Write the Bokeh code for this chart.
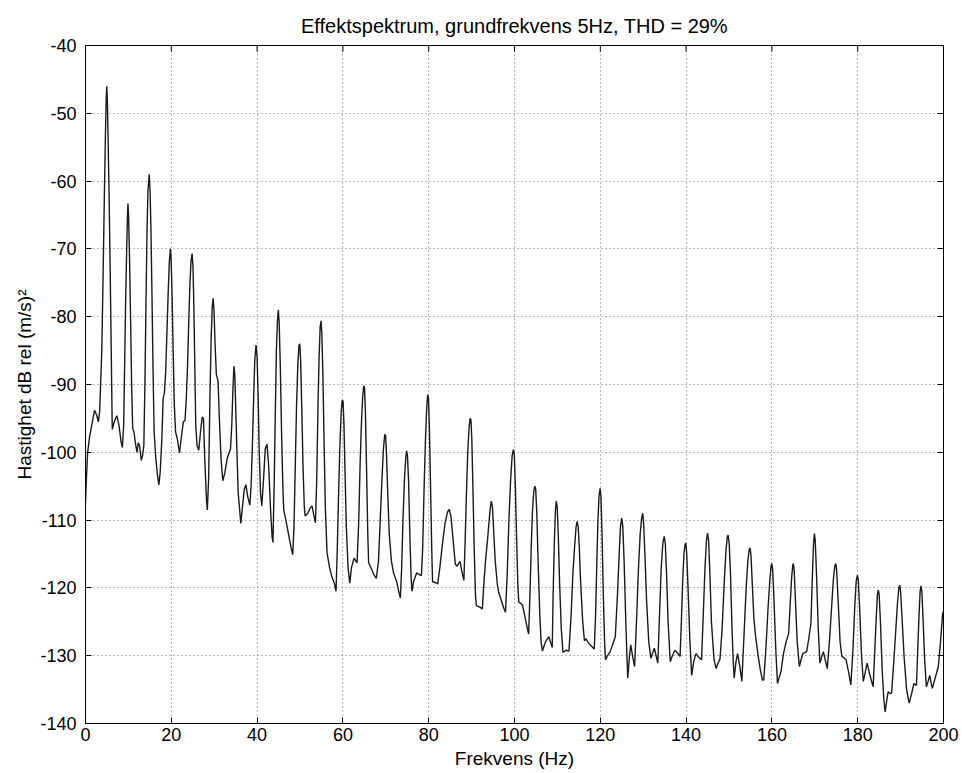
from bokeh.plotting import figure
from bokeh.models import LinearAxis, Range1d, CustomJSTickFormatter
from bokeh.embed import file_html
from bokeh.resources import INLINE

# Power spectrum trace: frequency (Hz) and level (dB rel (m/s)^2), harmonics every 5 Hz
freq_hz = [
    0.0, 0.2, 0.5, 1.0, 1.6, 2.1, 2.6, 3.0, 3.3, 3.8, 4.1, 4.4, 4.65, 4.82, 4.95, 5.1, 5.25, 5.5, 5.75, 6.0, 6.2,
    6.25, 6.7, 7.3, 7.8, 8.3, 8.6, 8.9,
    9.1, 9.35, 9.6, 9.78, 9.9, 10.05, 10.25, 10.5, 10.75, 11.0, 11.3, 11.6, 12.0, 12.3, 12.6, 13.0, 13.3, 13.6,
    13.85, 14.1, 14.35, 14.55, 14.85, 15.05, 15.25, 15.5, 15.75, 16.0, 16.4, 16.8, 17.1, 17.4, 17.8, 18.1, 18.4, 18.7,
    19.0, 19.3, 19.55, 19.8, 19.95, 20.15, 20.4, 20.7, 21.0, 21.4, 21.9, 22.3, 22.8, 23.2, 23.5,
    23.8, 24.1, 24.35, 24.6, 24.85, 25.05, 25.25, 25.5, 25.7, 26.0, 26.4, 26.8, 27.2, 27.5, 27.8, 28.2, 28.4, 28.7,
    29.0, 29.3, 29.55, 29.75, 29.95, 30.2, 30.5, 30.9, 31.2, 31.6, 32.0, 32.5, 33.0, 33.5, 33.8,
    34.1, 34.35, 34.6, 34.8, 35.0, 35.3, 35.6, 36.0, 36.2, 36.6, 37.0, 37.4, 37.8, 38.3, 38.6,
    38.9, 39.2, 39.45, 39.75, 40.0, 40.25, 40.5, 40.8, 41.1, 41.5, 41.9, 42.3, 42.7, 43.1, 43.5, 43.7,
    44.0, 44.25, 44.5, 44.75, 44.95, 45.15, 45.4, 45.7, 46.0, 46.2, 46.7, 47.3, 47.9, 48.3, 48.6,
    48.9, 49.2, 49.5, 49.75, 49.95, 50.15, 50.4, 50.7, 51.0, 51.2, 51.8, 52.4, 52.8, 53.2, 53.6,
    53.9, 54.2, 54.45, 54.7, 54.9, 55.1, 55.35, 55.6, 55.9, 56.3, 56.9, 57.4, 58.0, 58.4, 58.7,
    59.0, 59.3, 59.6, 59.85, 60.05, 60.25, 60.5, 60.8, 61.2, 61.6, 62.0, 62.6, 63.0, 63.3, 63.7,
    64.0, 64.3, 64.6, 64.85, 65.05, 65.25, 65.5, 65.8, 66.0, 66.5, 67.2, 67.8, 68.3, 68.7,
    69.1, 69.45, 69.75, 69.95, 70.15, 70.45, 70.8, 71.3, 71.8, 72.5, 73.0, 73.4, 73.7,
    74.0, 74.35, 74.65, 74.85, 75.05, 75.3, 75.6, 75.9, 76.1, 76.5, 77.2, 77.8, 78.3, 78.6,
    78.9, 79.2, 79.5, 79.75, 79.95, 80.15, 80.4, 80.7, 80.9, 81.5, 82.1, 82.6, 83.2, 83.8, 84.4, 84.8,
    85.2, 85.7, 86.2, 86.6, 87.0, 87.3, 87.7, 88.2, 88.5,
    88.8, 89.1, 89.4, 89.65, 89.85, 90.05, 90.3, 90.6, 90.9, 91.1, 91.8, 92.5, 92.9, 93.3, 93.7,
    94.1, 94.4, 94.6, 94.85, 95.1, 95.5, 96.0, 96.3, 97.0, 97.5, 97.9, 98.3,
    98.7, 99.1, 99.45, 99.75, 99.95, 100.2, 100.5, 100.8, 101.0, 101.5, 101.9, 102.5, 103.0, 103.3, 103.6,
    103.9, 104.2, 104.5, 104.75, 104.95, 105.2, 105.5, 105.9, 106.2, 106.5, 107.2, 108.0, 108.4, 108.8,
    109.0, 109.3, 109.55, 109.75, 109.95, 110.2, 110.5, 110.9, 111.3, 112.0, 112.7, 113.2,
    113.6, 114.0, 114.35, 114.6, 114.85, 115.1, 115.4, 115.9, 116.3, 116.7, 117.1, 117.8, 118.6, 118.9,
    119.2, 119.45, 119.7, 119.95, 120.15, 120.4, 120.7, 121.0, 121.2, 121.7, 122.3, 122.9, 123.5, 124.0,
    124.4, 124.7, 125.0, 125.25, 125.55, 125.9, 126.2, 126.4, 126.8, 127.1, 127.5, 128.0, 128.5,
    128.9, 129.3, 129.65, 129.9, 130.1, 130.4, 130.8, 131.3, 131.8, 132.2, 132.6, 133.0, 133.4, 133.8,
    134.2, 134.6, 134.9, 135.15, 135.45, 135.8, 136.3, 136.8, 137.4, 138.0, 138.6, 138.9,
    139.2, 139.5, 139.75, 139.95, 140.15, 140.45, 140.9, 141.3, 141.8, 142.3, 142.9, 143.6, 144.0,
    144.4, 144.75, 145.0, 145.25, 145.55, 145.9, 146.5, 147.0, 147.5, 147.9, 148.4,
    148.9, 149.3, 149.6, 149.8, 150.05, 150.35, 150.7, 151.0, 151.2, 151.6, 152.0, 152.5, 153.0, 153.5,
    154.0, 154.4, 154.7, 154.9, 155.1, 155.4, 155.8, 156.2, 156.8, 157.3, 157.8, 158.1, 158.6,
    159.1, 159.5, 159.8, 160.0, 160.2, 160.5, 160.9, 161.3, 161.7, 162.1, 162.7, 163.3, 163.9,
    164.3, 164.6, 164.85, 165.0, 165.2, 165.5, 165.9, 166.4, 166.8, 167.2, 168.1, 168.6, 169.1,
    169.4, 169.7, 169.9, 170.1, 170.4, 170.8, 171.2, 171.6, 172.0, 172.5, 172.9, 173.4,
    173.9, 174.3, 174.65, 174.9, 175.1, 175.45, 175.9, 176.3, 176.8, 177.3, 177.9, 178.4, 178.9,
    179.3, 179.65, 179.95, 180.15, 180.45, 180.9, 181.3, 181.8, 182.2, 182.9, 183.6, 184.0,
    184.35, 184.6, 184.8, 185.0, 185.3, 185.7, 186.1, 186.4, 186.8, 187.1, 187.5, 187.9, 188.4,
    188.9, 189.3, 189.6, 189.8, 190.0, 190.3, 190.8, 191.4, 192.0, 192.6, 193.1, 193.7, 194.0,
    194.3, 194.55, 194.75, 194.95, 195.2, 195.6, 196.0, 196.4, 196.8, 197.1, 197.4, 198.1, 198.8,
    199.3, 199.8, 200.0,
]

level_db = [
    -107.5, -104, -100, -97.5, -95.5, -93.8, -94.5, -95.5, -94, -85, -74, -62, -53, -48, -46, -48, -53, -62, -73, -85, -95,
    -96.6, -95.5, -94.6, -96, -98.5, -99.3, -96,
    -88, -78, -70, -65.3, -63.3, -65.3, -71, -80, -90, -96.5, -97, -98.5, -100, -98.6, -99, -101.2, -100.5, -99,
    -90, -78, -67, -61.5, -59, -61.5, -67, -77, -88, -97, -101, -103.5, -104.8, -103, -98, -92, -91.2, -88,
    -82, -76, -71.8, -70, -71.5, -76, -84, -93, -97, -98, -100.1, -98, -95.5, -95.3, -92,
    -87, -80, -75, -71.8, -70.7, -72.5, -78, -88, -96, -99, -99.7, -97, -94.8, -95, -101, -107, -108.5, -104,
    -92, -83, -78.5, -77.3, -79, -84, -88.5, -89.5, -95, -101, -104.2, -103, -101, -100, -99.5,
    -96, -91, -87.3, -88.5, -93, -100, -106, -109, -110.5, -108, -105.5, -104.8, -106.5, -107.8, -105,
    -99, -92, -86.5, -84.2, -86, -92, -100, -106, -107.9, -104, -99.5, -98.8, -102, -108, -112.5, -113.3,
    -104, -94, -85, -80.5, -79, -81, -87, -97, -105, -108.4, -110, -112, -114, -115.1, -111,
    -102, -93, -87, -84.3, -84, -86.5, -93, -102, -108, -109.4, -109, -108.2, -107.9, -109.2, -110.4,
    -104, -93, -86, -81.5, -80.6, -82.5, -89, -98, -108, -114.8, -117, -118.3, -119.3, -120.5, -114,
    -106, -99, -94, -92.3, -92.5, -96, -103, -111, -117, -119.3, -117, -115.6, -116, -116.3, -110,
    -102, -96, -92, -90.2, -90.5, -94, -102, -112, -116.3, -117, -118, -118.6, -116, -110,
    -104, -99.5, -97.4, -97.5, -100, -106, -112, -116, -117.8, -119, -120.5, -121.5, -117,
    -110, -104, -100.8, -99.8, -100.5, -104, -112, -118.5, -120.5, -119, -117.8, -118, -118.2, -114,
    -106, -99, -94, -91.5, -92, -96, -104, -114, -119.1, -119.2, -119.4, -117, -113.5, -110.5, -108.8, -108.4,
    -109.5, -113, -116.5, -116.8, -116.4, -116.1, -117.5, -118.9, -113,
    -106, -100, -96.5, -95, -95.2, -98, -105, -114, -121, -122.6, -122.8, -123.1, -119, -115.6, -113,
    -110, -108, -107.2, -108, -111, -116, -119.5, -120.6, -122, -123, -123.6, -118,
    -110, -104, -100.5, -99.6, -100.3, -105, -113, -120, -122.1, -122.3, -122.6, -124.5, -126, -126.8, -121,
    -114, -108.5, -105.7, -105, -105.5, -109, -116, -124, -128, -129.3, -128, -127.2, -128, -128.8,
    -121, -113, -108.5, -107.2, -108, -112, -119, -126, -129.5, -129.2, -129.3, -124,
    -118, -114, -111, -110.2, -111, -114, -119, -125, -127.8, -127.5, -128, -128.5, -129, -124,
    -116, -110, -106.5, -105.3, -106.5, -112, -121, -128, -130.6, -130, -129.4, -128.3, -127.2, -121,
    -115, -111, -109.7, -111, -116, -124, -130, -133.3, -130, -128.4, -130, -131.6, -124,
    -117, -112, -109.6, -109, -110.5, -115, -122, -128, -130.4, -129.6, -128.9, -130, -131.1, -124,
    -117, -113.3, -112.4, -113.5, -118, -125, -130.9, -130, -129.2, -129.6, -130.1, -125,
    -119, -115, -113.6, -113.4, -115, -120, -128, -132.9, -130.8, -129.7, -130.2, -130.6, -124,
    -117, -113, -111.9, -113, -118, -125, -130.5, -131.9, -131, -130.5, -126,
    -119, -114.5, -112.5, -112.2, -113.5, -118, -126, -131, -133.3, -131, -129.7, -131.5, -133.8, -127,
    -120, -116, -114.4, -114.1, -115, -119, -124.5, -127.2, -130, -132.1, -133.6, -133.6, -129,
    -123, -119, -116.8, -116.4, -117.5, -122, -129, -134.1, -133.2, -132.4, -129.7, -128, -126.7,
    -122, -118.5, -116.7, -116.4, -117.5, -122, -128, -131.6, -130.6, -129.7, -129.4, -127.5, -125.2,
    -119, -113.5, -112, -113, -118, -126, -131.1, -130.2, -129.4, -130.8, -131.9, -128,
    -123, -119, -116.8, -116.4, -117.5, -122, -128, -130.1, -130.3, -130.6, -132.5, -134.3, -129,
    -123, -119, -118.1, -119, -123, -130, -133.8, -132.3, -131.1, -133, -134.6, -129,
    -124, -121, -120.3, -121, -125, -132, -136.5, -138.3, -136.5, -135.3, -135.6, -135.5, -131,
    -126, -122, -120, -119.6, -120.5, -124, -130, -135, -137, -135.5, -134.1, -134.4, -129,
    -124, -120.5, -119.7, -120.5, -124, -130.5, -134.6, -133.8, -132.9, -134, -134.8, -133.2, -131.6,
    -128, -123.8, -123.5,
]

x_ticks = list(range(0, 201, 20))
y_ticks = list(range(-140, -39, 10))

X_MIN, X_MAX = 0, 200
Y_MIN, Y_MAX = -140, -40

FONT = "Liberation Sans"

p = figure(
    width=962, height=773,
    output_backend="svg", toolbar_location=None,
    x_range=Range1d(X_MIN, X_MAX), y_range=Range1d(Y_MIN, Y_MAX),
    min_border_left=85, min_border_right=19, min_border_top=45, min_border_bottom=50,
    background_fill_color="white", border_fill_color="white",
    x_axis_label="Frekvens (Hz)", y_axis_label="Hastighet dB rel (m/s)²",
    title="Effektspektrum, grundfrekvens 5Hz, THD = 29%",
)

p.line(freq_hz, level_db, line_color="#1a1a1a", line_width=1.4)

p.outline_line_color = "black"
p.outline_line_width = 1

p.title.align = "center"
p.title.text_font = FONT
p.title.text_font_style = "normal"
p.title.text_font_size = "20px"
p.title.text_color = "black"
p.title.standoff = 18

# plain hyphen-minus in the tick labels
plain_int = CustomJSTickFormatter(code="return tick.toFixed(0);")

for ax, ticks in ((p.xaxis[0], x_ticks), (p.yaxis[0], y_ticks)):
    ax.ticker = ticks
    ax.formatter = plain_int
    ax.major_tick_in = 6
    ax.major_tick_out = 0
    ax.minor_tick_line_color = None
    ax.axis_line_color = "black"
    ax.major_tick_line_color = "black"
    ax.major_label_text_font = FONT
    ax.major_label_text_font_size = "18px"
    ax.major_label_text_color = "black"
    ax.axis_label_text_font = FONT
    ax.axis_label_text_font_size = "19px"
    ax.axis_label_text_font_style = "normal"
    ax.axis_label_text_color = "black"

p.xaxis[0].major_label_standoff = 4
p.xaxis[0].axis_label_standoff = 4
p.yaxis[0].major_label_standoff = 9
p.yaxis[0].axis_label_standoff = 2

# tick marks on the right edge of the box, without labels
no_label = CustomJSTickFormatter(code="return '';")
right_ax = LinearAxis(ticker=y_ticks, formatter=no_label)
right_ax.major_tick_in = 6
right_ax.major_tick_out = 0
right_ax.minor_tick_line_color = None
right_ax.axis_line_color = None
right_ax.major_tick_line_color = "black"
right_ax.major_label_standoff = 0
p.add_layout(right_ax, "right")

# tick marks hanging down from the top edge of the box
tick_len = (Y_MAX - Y_MIN) * 0.009
p.segment(x0=x_ticks, y0=[Y_MAX] * len(x_ticks), x1=x_ticks, y1=[Y_MAX - tick_len] * len(x_ticks),
          line_color="black", line_width=1)

p.xgrid.ticker = x_ticks
p.ygrid.ticker = y_ticks
p.grid.grid_line_color = "#333333"
p.grid.grid_line_alpha = 0.7
p.grid.grid_line_dash = "1 3"
p.grid.grid_line_width = 1

open("out.html", "w").write(file_html(p, INLINE))
